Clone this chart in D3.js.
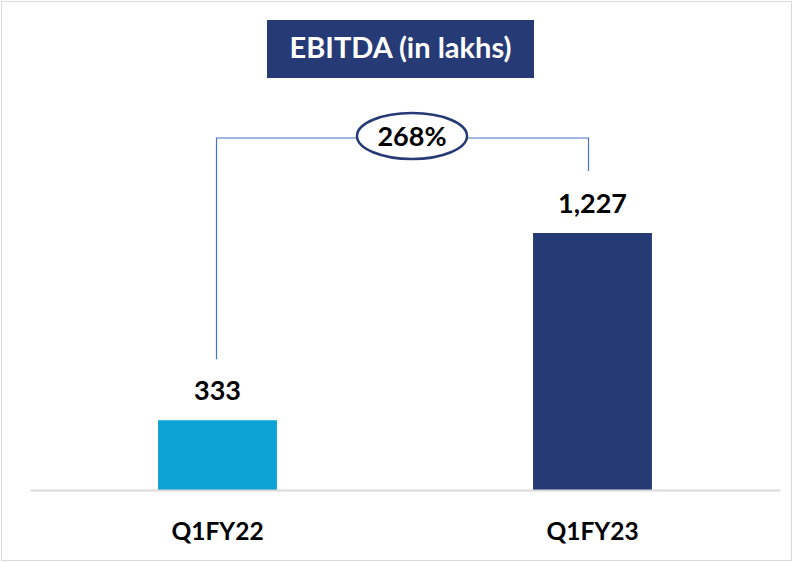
<!DOCTYPE html>
<html><head><meta charset="utf-8">
<script src="https://cdn.jsdelivr.net/npm/d3@7"></script>
<style>body{margin:0;background:#fff}svg{display:block}</style>
</head><body>
<svg id="c" width="794" height="563"></svg>
<script>
const categories = ["Q1FY22", "Q1FY23"];
const values = [333, 1227];
const valueLabels = ["333", "1,227"];
const barColors = ["#0BA3D3", "#263A75"];
const titleText = "EBITDA (in lakhs)";
const growthText = "268%";

const svg = d3.select("#c");
const font = "Lato, 'Open Sans', sans-serif";
const baseY = 490;

svg.append("rect").attr("x",1.5).attr("y",1.5).attr("width",790).attr("height",559)
  .attr("fill","#fff").attr("stroke","#d9d9d9").attr("stroke-width",1);

const x = d3.scaleBand().domain(categories).range([30,780]).paddingInner(0.683).paddingOuter(0.3415);
const y = d3.scaleLinear().domain([0,1227]).range([baseY,233]);

svg.selectAll("rect.bar").data(values).enter().append("rect").attr("class","bar")
  .attr("x",(d,i)=>x(categories[i])).attr("width",x.bandwidth())
  .attr("y",d=>y(d)).attr("height",d=>baseY-y(d))
  .attr("fill",(d,i)=>barColors[i]);

// axis line
const xAxis = svg.append("g").attr("transform",`translate(0,${baseY})`)
  .call(d3.axisBottom(x).tickSize(0).tickPadding(0));
xAxis.select(".domain").attr("stroke","#d9d9d9").attr("stroke-width",2);
xAxis.selectAll("text").attr("font-family",font).attr("font-weight","bold")
  .attr("font-size",24.5).attr("fill","#000").attr("dy",null).attr("y",50);

// value labels
svg.selectAll("text.val").data(values).enter().append("text").attr("class","val")
  .attr("x",(d,i)=>x(categories[i])+x.bandwidth()/2)
  .attr("y",d=>y(d)-20).attr("text-anchor","middle")
  .attr("font-family",font).attr("font-weight","bold").attr("font-size",27).attr("fill","#000")
  .text((d,i)=>valueLabels[i]);

// bracket
const bracketY = 138;
const cx0 = x(categories[0])+x.bandwidth()/2 - 1;
const cx1 = x(categories[1])+x.bandwidth()/2 - 4;
const path = d3.path();
path.moveTo(cx0, y(values[0])-61);
path.lineTo(cx0, bracketY);
path.lineTo(cx1, bracketY);
path.lineTo(cx1, y(values[1])-62);
svg.append("path").attr("d",path.toString()).attr("fill","none")
  .attr("stroke","#4472C4").attr("stroke-width",1.2);

const ecx = 412, ecy = 136;
svg.append("ellipse").attr("cx",ecx).attr("cy",ecy).attr("rx",55).attr("ry",23)
  .attr("fill","#fff").attr("stroke","#263A75").attr("stroke-width",2.5);
svg.append("text").attr("x",ecx).attr("y",ecy+9.5).attr("text-anchor","middle")
  .attr("font-family",font).attr("font-weight","bold").attr("font-size",27).attr("fill","#000")
  .text(growthText);

// title
svg.append("rect").attr("x",267).attr("y",20).attr("width",267).attr("height",58).attr("fill","#263A75");
svg.append("text").attr("x",400.5).attr("y",57.5).attr("text-anchor","middle")
  .attr("font-family",font).attr("font-weight","bold").attr("font-size",29).attr("fill","#fff")
  .text(titleText);
</script>
</body></html>
